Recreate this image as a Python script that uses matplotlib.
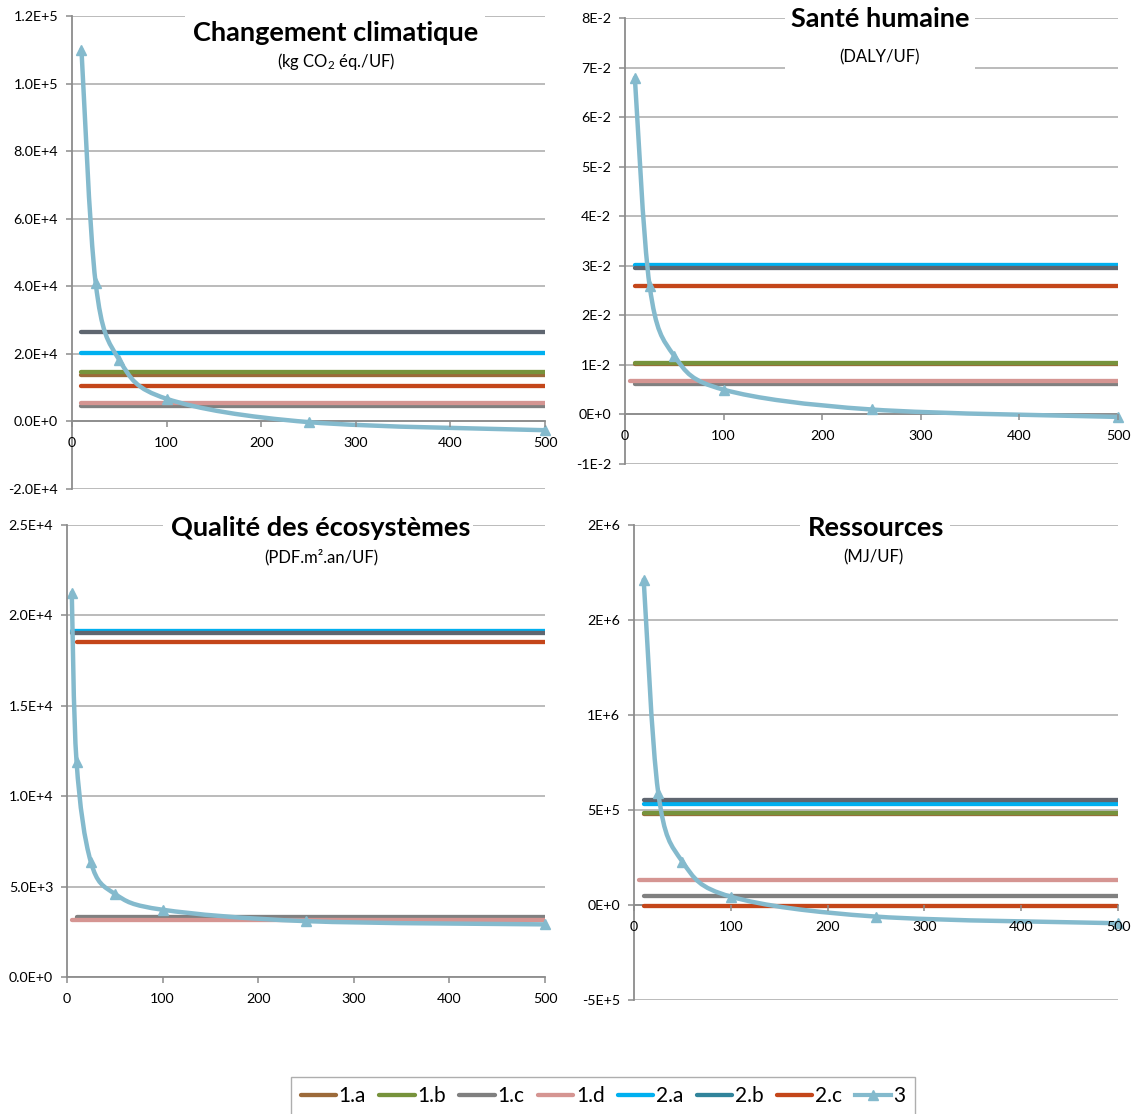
import numpy as np
import matplotlib
matplotlib.use("Agg")
import matplotlib.pyplot as plt
from matplotlib.path import Path
from matplotlib.patches import PathPatch, Rectangle
from matplotlib.lines import Line2D
from matplotlib.ticker import MultipleLocator, FuncFormatter

plt.rcParams['font.family'] = ['Lato', 'DejaVu Sans']
plt.rcParams['mathtext.fontset'] = 'custom'
plt.rcParams['mathtext.rm'] = 'Lato'
plt.rcParams['mathtext.it'] = 'Lato:italic'
plt.rcParams['mathtext.bf'] = 'Lato:bold'

# ---------------- data ----------------
series_names = ['1.a', '1.b', '1.c', '1.d', '2.a', '2.b', '2.c']
legend_names = series_names + ['3']

titles = ['Changement climatique', 'Santé humaine',
          'Qualité des écosystèmes', 'Ressources']
subtitles = [r'(kg CO$_{\mathrm{2}}$ éq./UF)', '(DALY/UF)',
             '(PDF.m².an/UF)', '(MJ/UF)']

# constant scenarios (order 1.a, 1.b, 1.c, 1.d, 2.a, 2.b, 2.c)
cc_const = [13600, 14750, 4700, 5500, 20150, 26550, 10400]
sh_const = [0.0102, 0.0103, 0.0062, 0.0067, 0.0302, 0.02955, 0.0259]
qe_const = [3250, 3250, 3310, 3130, 19150, 19020, 18540]
rs_const = [478000, 485000, 49000, 131000, 530000, 555000, -5000]

# first x value of each constant scenario line (last x = 500)
cc_start = [10, 10, 10, 10, 10, 10, 10]
sh_start = [10, 10, 10, 5, 10, 10, 10]
qe_start = [10, 10, 10, 5, 5, 5, 10]
rs_start = [10, 10, 10, 5, 10, 10, 10]
x_end = 500

# scenario 3
cc_x3 = [10, 25, 50, 100, 250, 500]
cc_y3 = [110000, 41000, 18200, 6700, -200, -2600]
sh_x3 = [10, 25, 50, 100, 250, 500]
sh_y3 = [0.0679, 0.0259, 0.0118, 0.0050, 0.0010, -0.0005]
qe_x3 = [5, 10, 25, 50, 100, 250, 500]
qe_y3 = [21250, 11900, 6350, 4600, 3720, 3090, 2910]
rs_x3 = [10, 25, 50, 100, 250, 500]
rs_y3 = [1712000, 592000, 228000, 44000, -61000, -96000]

# axis ranges
y_ranges = [(-20000, 120000, 20000), (-0.01, 0.08, 0.01),
            (0, 25000, 5000), (-500000, 2000000, 500000)]
y_decimals = [1, 0, 1, 0]

# ---------------- style ----------------
plot_colors = ['#9c6a3a', '#77933c', '#808080', '#d59592',
               '#00b0f0', '#5f6670', '#c4461a']
legend_colors = ['#9c6a3a', '#77933c', '#808080', '#d59592',
                 '#00b0f0', '#31849b', '#c4461a']
c3 = '#84bacd'
grid_c = '#a8a8a8'
axis_c = '#8c8c8c'

W, H = 1137, 1114
fig = plt.figure(figsize=(W / 100, H / 100), dpi=100)

def rect_px(l, r, t, b):
    return [l / W, 1 - b / H, (r - l) / W, (b - t) / H]

axes_px = [(72, 545, 16, 489), (625, 1118, 18, 464),
           (67, 545, 525, 977), (634, 1118, 525, 1000)]

def make_fmt(dec):
    def f(v, pos):
        if abs(v) < 1e-15:
            m, e = 0.0, 0
        else:
            e = int(np.floor(np.log10(abs(v)) + 1e-9))
            m = v / 10 ** e
            if abs(float(f"{m:.{dec}f}")) >= 10:
                e += 1
                m = v / 10 ** e
        s = f"{m:.{dec}f}"
        return f"{s}E{'+' if e >= 0 else '-'}{abs(e)}"
    return f

def smooth(xs, ys):
    n = len(xs)
    verts = [(xs[0], ys[0])]
    codes = [Path.MOVETO]
    for i in range(n - 1):
        p0 = i - 1 if i > 0 else i
        p3 = i + 2 if i + 2 < n else i + 1
        c1 = (xs[i] + (xs[i + 1] - xs[p0]) / 6, ys[i] + (ys[i + 1] - ys[p0]) / 6)
        c2 = (xs[i + 1] - (xs[p3] - xs[i]) / 6, ys[i + 1] - (ys[p3] - ys[i]) / 6)
        verts += [c1, c2, (xs[i + 1], ys[i + 1])]
        codes += [Path.CURVE4] * 3
    return Path(verts, codes)

consts = [cc_const, sh_const, qe_const, rs_const]
starts = [cc_start, sh_start, qe_start, rs_start]
x3s = [cc_x3, sh_x3, qe_x3, rs_x3]
y3s = [cc_y3, sh_y3, qe_y3, rs_y3]

for k in range(4):
    ax = fig.add_axes(rect_px(*axes_px[k]))
    lo, hi, st = y_ranges[k]
    ax.set_xlim(0, 500)
    ax.set_ylim(lo, hi)
    ax.yaxis.set_major_locator(MultipleLocator(st))
    ax.xaxis.set_major_locator(MultipleLocator(100))
    ax.yaxis.set_major_formatter(FuncFormatter(make_fmt(y_decimals[k])))
    ax.xaxis.set_major_formatter(FuncFormatter(lambda v, p: f"{int(round(v))}"))
    # gridlines drawn below data, axis (labels) drawn above data
    ax.set_axisbelow(False)
    yt = [t for t in ax.get_yticks() if lo - 1e-12 <= t <= hi + 1e-12]
    ax.hlines(yt, 0, 500, colors=grid_c, linewidth=1.1, zorder=0.5)
    for s in ['top', 'right']:
        ax.spines[s].set_visible(False)
    ax.spines['left'].set_color(axis_c)
    ax.spines['left'].set_linewidth(1.3)
    ax.spines['bottom'].set_position(('data', 0))
    ax.spines['bottom'].set_color(axis_c)
    ax.spines['bottom'].set_linewidth(1.3)
    ax.spines['bottom'].set_zorder(0.6)
    ax.tick_params(axis='both', colors=axis_c, labelcolor='black',
                   labelsize=10.3, length=4, width=1.1, direction='out')
    ax.tick_params(axis='y', pad=6)
    ax.tick_params(axis='x', pad=7.5)

    for j, v in enumerate(consts[k]):
        ax.plot([starts[k][j], x_end], [v, v], color=plot_colors[j],
                linewidth=3.1, solid_capstyle='round', zorder=2 + j * 0.01)
    ax.add_patch(PathPatch(smooth(x3s[k], y3s[k]), facecolor='none',
                           edgecolor=c3, linewidth=3.2, zorder=2.2,
                           capstyle='round', clip_on=False))
    ax.plot(x3s[k], y3s[k], linestyle='none', marker='^', markersize=7,
            color=c3, zorder=2.3, clip_on=False)

# title boxes (white) and texts
title_boxes = [(185, 485, 8, 76), (785, 975, 6, 72),
               (163, 473, 515, 572), (800, 950, 515, 572)]
title_pos = [(336, 33), (880, 19), (321, 528), (876, 528)]
sub_pos = [(336, 62), (880, 57), (321, 557), (873, 557)]
for k in range(4):
    l, r, t, b = title_boxes[k]
    fig.patches.append(Rectangle((l / W, 1 - b / H), (r - l) / W, (b - t) / H,
                                 transform=fig.transFigure, facecolor='white',
                                 edgecolor='none', zorder=5))
    tx, ty = title_pos[k]
    fig.text(tx / W, 1 - ty / H, titles[k], ha='center', va='center',
             fontsize=19.5, fontweight='bold', zorder=6)
    sx, sy = sub_pos[k]
    fig.text(sx / W, 1 - sy / H, subtitles[k], ha='center', va='center',
             fontsize=12, zorder=6)

# legend
handles = [Line2D([], [], color=c, linewidth=3.1, solid_capstyle='round')
           for c in legend_colors]
handles.append(Line2D([], [], color=c3, linewidth=3.0, marker='^', markersize=7))
leg = fig.legend(handles, legend_names, loc='upper center',
                 bbox_to_anchor=(603 / W, 1 - 1077 / H), ncol=8,
                 fontsize=15, frameon=True, fancybox=False,
                 handlelength=1.7, handletextpad=0.12, columnspacing=0.65,
                 borderpad=0.45, borderaxespad=0)
leg.get_frame().set_edgecolor('#9a9a9a')
leg.get_frame().set_linewidth(1.0)

fig.savefig('out.png', dpi=100)
